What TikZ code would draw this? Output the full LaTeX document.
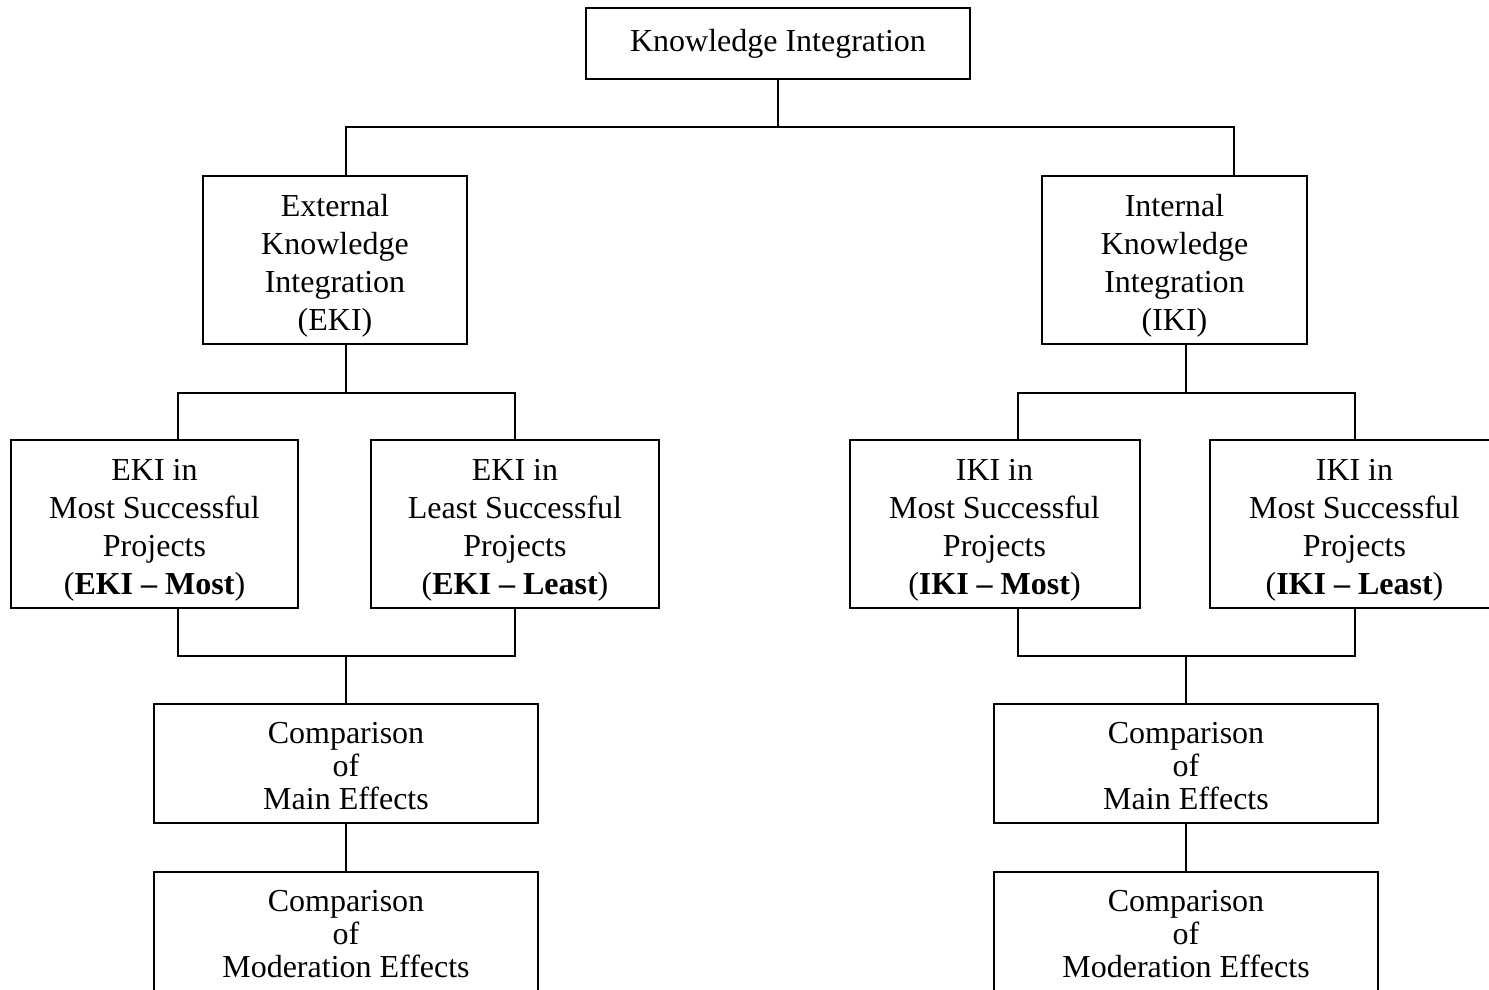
\documentclass[tikz,border=0pt]{standalone}
\usepackage{fontspec}
\setmainfont{Liberation Serif}
% struts that set the height of the first line in the boxes
\newcommand{\tallstrut}{\rule{0pt}{34pt}}
\newcommand{\cmpstrut}{\rule{0pt}{26pt}}
\begin{document}
\begin{tikzpicture}[x=1pt,y=-1pt,
  box/.style={draw=black, line width=2pt, align=center, inner sep=0pt,
    font=\fontsize{32}{38}\selectfont},
  cmpbox/.style={box, minimum width=384pt, minimum height=119pt,
    font=\fontsize{32}{33}\selectfont},
  tallbox/.style={box, minimum height=168pt},
  link/.style={draw=black, line width=2pt}]
\useasboundingbox (0,0) rectangle (1489,990);
\clip (0,0) rectangle (1489,990);

% boxes
\node[box, minimum width=384pt, minimum height=71pt] (ki) at (778,43.5) {Knowledge Integration};
\node[tallbox, minimum width=264pt] (eki) at (335,260) {\tallstrut External\\Knowledge\\Integration\\(EKI)};
\node[tallbox, minimum width=265pt] (iki) at (1174.5,260) {\tallstrut Internal\\Knowledge\\Integration\\(IKI)};
\node[tallbox, minimum width=287pt] (ekimost) at (154.5,524) {\tallstrut EKI in\\Most Successful\\Projects\\(\textbf{EKI -- Most})};
\node[tallbox, minimum width=288pt] (ekileast) at (515,524) {\tallstrut EKI in\\Least Successful\\Projects\\(\textbf{EKI -- Least})};
\node[tallbox, minimum width=290pt] (ikimost) at (994.5,524) {\tallstrut IKI in\\Most Successful\\Projects\\(\textbf{IKI -- Most})};
\node[tallbox, minimum width=289pt] (ikileast) at (1354.5,524) {\tallstrut IKI in\\Most Successful\\Projects\\(\textbf{IKI -- Least})};
\node[cmpbox] (ekimain) at (346,763.5) {\cmpstrut Comparison\\of\\Main Effects};
\node[cmpbox] (ekimod) at (346,931.5) {\cmpstrut Comparison\\of\\Moderation Effects};
\node[cmpbox] (ikimain) at (1186,763.5) {\cmpstrut Comparison\\of\\Main Effects};
\node[cmpbox] (ikimod) at (1186,931.5) {\cmpstrut Comparison\\of\\Moderation Effects};

% junction points of the tree
\coordinate (j0) at (778,127);
\coordinate (je) at (346,393);
\coordinate (ji) at (1186,393);
\coordinate (ke) at (346,656);
\coordinate (ki2) at (1186,656);

% top level split
\draw[link] (ki.south) -- (j0);
\draw[link] ([xshift=11pt]eki.north) |- (j0) -| ([xshift=59.5pt]iki.north);

% EKI branch
\draw[link] ([xshift=11pt]eki.south) -- (je);
\draw[link] ([xshift=23.5pt]ekimost.north) |- (je) -| (ekileast.north);
\draw[link] ([xshift=23.5pt]ekimost.south) |- (ke) -| (ekileast.south);
\draw[link] (ke) -- (ekimain.north);
\draw[link] (ekimain.south) -- (ekimod.north);

% IKI branch
\draw[link] ([xshift=11.5pt]iki.south) -- (ji);
\draw[link] ([xshift=23.5pt]ikimost.north) |- (ji) -| (ikileast.north);
\draw[link] ([xshift=23.5pt]ikimost.south) |- (ki2) -| (ikileast.south);
\draw[link] (ki2) -- (ikimain.north);
\draw[link] (ikimain.south) -- (ikimod.north);
\end{tikzpicture}
\end{document}
